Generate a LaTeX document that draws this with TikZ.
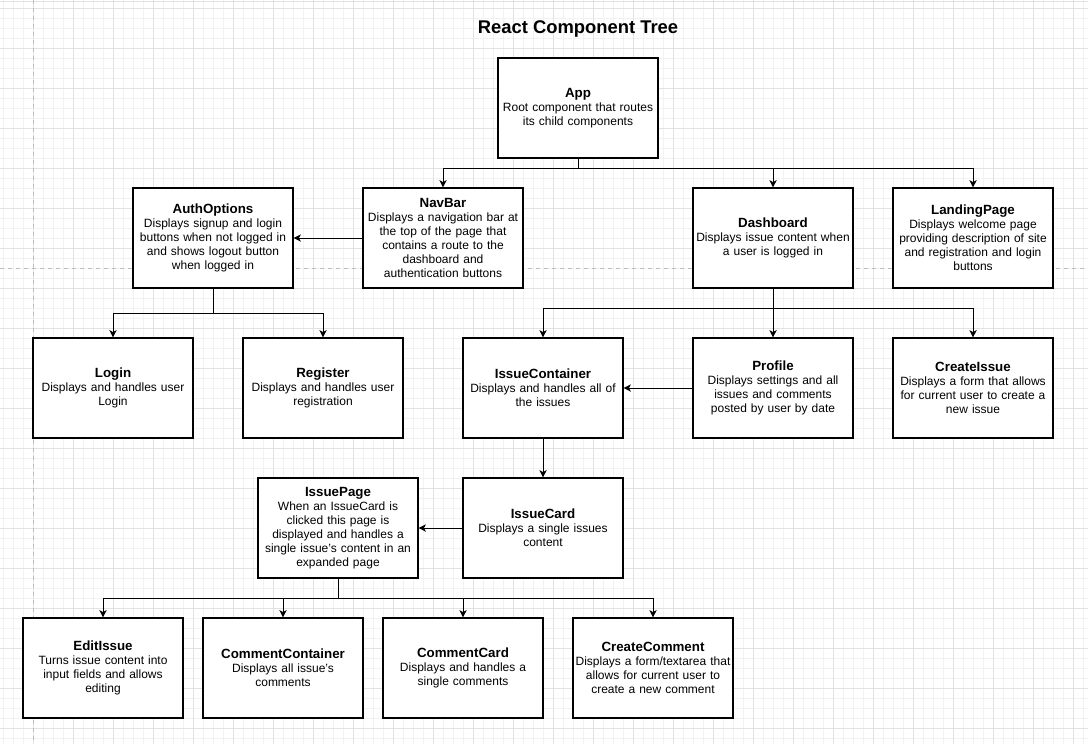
\documentclass[tikz,border=0pt]{standalone}
\usepackage{fontspec}
\setmainfont{Liberation Sans}
\usepackage{tikz}
\usetikzlibrary{arrows.meta}
\definecolor{gridminor}{HTML}{F2F2F2}
\definecolor{gridmajor}{HTML}{E2E2E2}
\definecolor{pagebrk}{HTML}{BDBDBD}
\newcommand{\hd}[1]{{\fontsize{10}{12}\selectfont\bfseries #1}}
\tikzset{
  blk/.style={draw=black, fill=white, line width=0.85pt, align=center,
              font=\fontsize{9}{10.5}\selectfont, text width=118pt, inner sep=1pt,
              minimum width=120pt, minimum height=75pt},
  arr/.style={-{Stealth[length=5.5pt, width=5.5pt, inset=1.5pt]}, line width=0.75pt, draw=black},
  ttl/.style={font=\fontsize{13.8}{16}\selectfont\bfseries},
}

\begin{document}
\begin{tikzpicture}[x=0.75pt, y=-0.75pt]
  \useasboundingbox (0,0) rectangle (1088,744);
  \fill[white] (0,0) rectangle (1088,744);
  % background grid
  \foreach \x in {3,13,...,1083} \draw[gridminor, line width=0.75pt] (\x,0) -- (\x,744);
  \foreach \y in {8,18,...,738} \draw[gridminor, line width=0.75pt] (0,\y) -- (1088,\y);
  \foreach \x in {33,73,...,1073} \draw[gridmajor, line width=0.75pt] (\x,0) -- (\x,744);
  \foreach \y in {8,48,...,728} \draw[gridmajor, line width=0.75pt] (0,\y) -- (1088,\y);
  \draw[gridmajor, line width=0.75pt] (0,1.5) -- (1088,1.5);
  \draw[pagebrk, dashed, line width=0.75pt] (33,0) -- (33,744);
  \draw[pagebrk, dashed, line width=0.75pt] (0,268) -- (1088,268);

  \node[ttl] (title) at (578,29) {React Component Tree};

  \node[blk] (app) at (578,108) {\hd{App}\\Root component that routes\\its child components};

  \node[blk] (auth) at (213,238) {\hd{AuthOptions}\\Displays signup and login\\buttons when not logged in\\and shows logout button\\when logged in};
  \node[blk] (nav) at (443,238) {\hd{NavBar}\\Displays a navigation bar at\\the top of the page that\\contains a route to the\\dashboard and\\authentication buttons};
  \node[blk] (dash) at (773,238) {\hd{Dashboard}\\Displays issue content when\\a user is logged in};
  \node[blk] (land) at (973,238) {\hd{LandingPage}\\Displays welcome page\\providing description of site\\and registration and login\\buttons};

  \node[blk] (login) at (113,388) {\hd{Login}\\Displays and handles user\\Login};
  \node[blk] (reg) at (323,388) {\hd{Register}\\Displays and handles user\\registration};
  \node[blk] (icont) at (543,388) {\hd{IssueContainer}\\Displays and handles all of\\the issues};
  \node[blk] (prof) at (773,388) {\hd{Profile}\\Displays settings and all\\issues and comments\\posted by user by date};
  \node[blk] (cissue) at (973,388) {\hd{CreateIssue}\\Displays a form that allows\\for current user to create a\\new issue};

  \node[blk] (ipage) at (338,528) {\hd{IssuePage}\\When an IssueCard is\\clicked this page is\\displayed and handles a\\single issue's content in an\\expanded page};
  \node[blk] (icard) at (543,528) {\hd{IssueCard}\\Displays a single issues\\content};

  \foreach \x/\n/\t in {103/edit/{\hd{EditIssue}\\Turns issue content into\\input fields and allows\\editing},
                        283/ccont/{\hd{CommentContainer}\\Displays all issue's\\comments},
                        463/ccard/{\hd{CommentCard}\\Displays and handles a\\single comments},
                        653/ccom/{\hd{CreateComment}\\Displays a form/textarea that\\allows for current user to\\create a new comment}}
    \node[blk] (\n) at (\x,668) {\t};

  % tree connectors
  \foreach \n in {nav,dash,land} \draw[arr] (app.south) -- ++(0,10) -| (\n.north);
  \draw[arr] (nav.west) -- (auth.east);
  \foreach \n in {login,reg} \draw[arr] (auth.south) -- ++(0,25) -| (\n.north);
  \foreach \n in {icont,prof,cissue} \draw[arr] (dash.south) -- ++(0,20) -| (\n.north);
  \draw[arr] (prof.west) -- (icont.east);
  \draw[arr] (icont.south) -- (icard.north);
  \draw[arr] (icard.west) -- (ipage.east);
  \foreach \n in {edit,ccont,ccard,ccom} \draw[arr] (ipage.south) -- ++(0,20) -| (\n.north);
\end{tikzpicture}
\end{document}
